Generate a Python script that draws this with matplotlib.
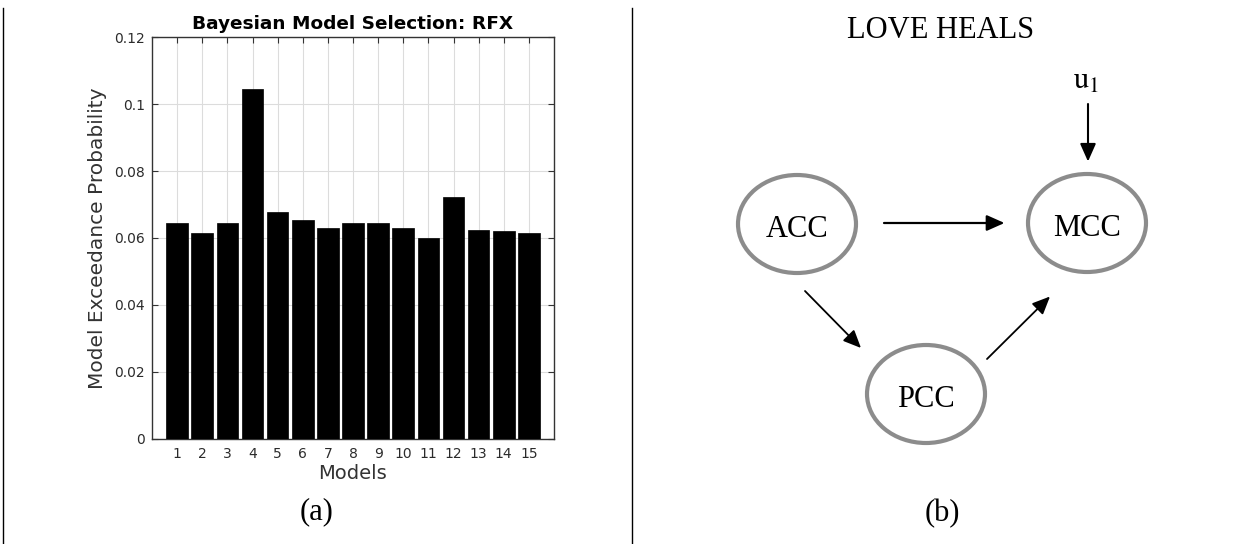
import numpy as np
import matplotlib
matplotlib.use("Agg")
import matplotlib.pyplot as plt
from matplotlib.patches import Ellipse

# panel (a) data
models = list(range(1, 16))
exceedance = [0.0644, 0.0615, 0.0644, 0.1047, 0.0678, 0.0654, 0.0629, 0.0644,
              0.0644, 0.0630, 0.0600, 0.0722, 0.0625, 0.0620, 0.0615]
yticks = [0, 0.02, 0.04, 0.06, 0.08, 0.10, 0.12]
ytick_labels = ["0", "0.02", "0.04", "0.06", "0.08", "0.1", "0.12"]

# panel (b) diagram, pixel positions on the figure
nodes = {"ACC": (797, 224), "MCC": (1087, 223), "PCC": (926, 394)}
edges = [((884, 223), (1004.5, 223), 1.6),
         ((805, 291), (861, 348), 1.3),
         ((987, 359), (1050, 296.5), 1.3),
         ((1088, 104), (1088, 161.5), 1.5)]

W, H = 1254, 544
fig = plt.figure(figsize=(W / 100, H / 100), dpi=100)

# overlay in pixel coords for the diagram and panel dividers
dax = fig.add_axes([0, 0, 1, 1])
dax.set_xlim(0, W)
dax.set_ylim(H, 0)
dax.axis("off")

ax = fig.add_axes([152 / W, 1 - 438.5 / H, (554 - 152) / W, (438.5 - 37.5) / H])
ax.bar(models, exceedance, width=0.86, color="black", edgecolor="black", lw=0.5, zorder=3)
ax.set_xlim(0, 16)
ax.set_ylim(0, 0.12)
ax.set_xticks(models)
ax.set_yticks(yticks)
ax.set_yticklabels(ytick_labels)
ax.grid(True, color="#dcdcdc", lw=0.8)
ax.set_axisbelow(True)
ax.tick_params(direction="in", length=4, top=True, right=True, color="#333333",
               labelcolor="#2b2b2b", labelsize=10)
ax.tick_params(axis="x", pad=6)
ax.tick_params(axis="y", pad=5)
for sp in ax.spines.values():
    sp.set_color("#333333")
    sp.set_linewidth(1.0)
ax.set_title("Bayesian Model Selection: RFX", fontsize=13.3, fontweight="bold", pad=6)
ax.set_xlabel("Models", fontsize=14, color="#333333", labelpad=2)
ax.set_ylabel("Model Exceedance Probability", fontsize=14.5, color="#333333", labelpad=5)

serif = ["Liberation Serif", "DejaVu Serif"]
plt.rcParams["mathtext.fontset"] = "stix"

# dividers
dax.plot([3, 3], [7.5, H], color="black", lw=1.0)
dax.plot([631.5, 631.5], [7.5, H], color="black", lw=1.0)

dax.text(316.7, 512, "(a)", fontsize=22, family=serif, ha="center", va="center")
dax.text(942.6, 514, "(b)", fontsize=22, family=serif, ha="center", va="center")
dax.text(941, 38.5, "LOVE HEALS", fontsize=22, family=serif, ha="center", va="baseline")
dax.text(1086, 89, r"$\mathrm{u}_{1}$", fontsize=22, ha="center", va="baseline")

for name, (cx, cy) in nodes.items():
    dax.add_patch(Ellipse((cx, cy), 118, 98, fill=False, edgecolor="#8c8c8c", lw=3))
    dax.text(cx, cy + 13, name, fontsize=22, family=serif, ha="center", va="baseline")

for start, end, lw in edges:
    dax.annotate("", xy=end, xytext=start,
                 arrowprops=dict(arrowstyle="-|>,head_length=0.45,head_width=0.2",
                                 color="black", lw=lw, mutation_scale=24,
                                 shrinkA=0, shrinkB=0))

fig.savefig("out.png", dpi=100)
